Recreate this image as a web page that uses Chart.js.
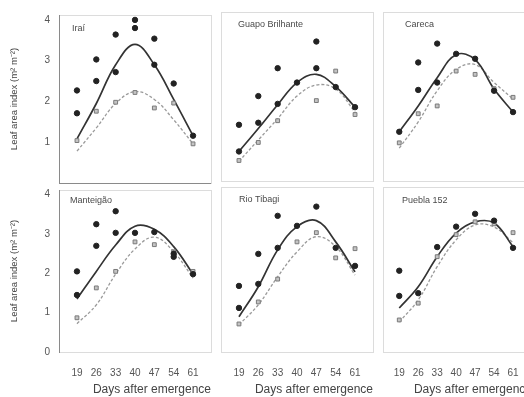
<!DOCTYPE html>
<html>
<head>
<meta charset="utf-8">
<script src="https://cdn.jsdelivr.net/npm/chart.js@4.4.1/dist/chart.umd.min.js"></script>
<style>
html, body { margin: 0; padding: 0; background: #fff; overflow: hidden; width: 524px; height: 397px; }
canvas { position: absolute; }
</style>
</head>
<body>
<canvas id="p1"></canvas>
<canvas id="p2"></canvas>
<canvas id="p3"></canvas>
<canvas id="p4"></canvas>
<canvas id="p5"></canvas>
<canvas id="p6"></canvas>
<script>
// days after emergence (x)
var days = [19, 26, 33, 40, 47, 54, 61];
var yTicksTop = [1, 2, 3, 4];
var yTicksBottom = [0, 1, 2, 3, 4];

var names = ["Iraí", "Guapo Brilhante", "Careca", "Manteigão", "Rio Tibagi", "Puebla 152"];

// black dots (two readings per day where visible)
var iraiDarkA = [2.27, 3.03, 3.64, 4.0, 3.54, 2.44, 1.16];
var iraiDarkB = [1.71, 2.5, 2.72, 3.8, 2.9, null, null];
var iraiGray = [1.04, 1.76, 1.98, 2.22, 1.84, 1.96, 0.96];
var iraiSolid = [1.08, 1.95, 2.9, 3.4, 2.9, 2.05, 1.16];
var iraiDashed = [0.78, 1.35, 1.95, 2.24, 2.05, 1.55, 0.96];

var guapoDarkA = [1.37, 2.07, 2.75, 2.4, 3.4, 2.29, 1.8];
var guapoDarkB = [0.72, 1.42, 1.88, null, 2.75, null, null];
var guapoGray = [0.5, 0.94, 1.47, 2.4, 1.96, 2.68, 1.62];
var guapoSolid = [0.72, 1.28, 1.86, 2.4, 2.6, 2.3, 1.8];
var guapoDashed = [0.48, 1.0, 1.52, 2.07, 2.34, 2.24, 1.68];

var carecaDarkA = [1.2, 2.89, 3.35, 3.1, 2.98, 2.2, 1.68];
var carecaDarkB = [null, 2.22, 2.4, null, null, null, null];
var carecaGray = [0.93, 1.64, 1.83, 2.68, 2.6, 2.25, 2.04];
var carecaSolid = [1.2, 1.83, 2.52, 3.08, 2.96, 2.24, 1.68];
var carecaDashed = [0.8, 1.44, 2.2, 2.72, 2.84, 2.4, 2.0];

var manteigaoDarkA = [2.05, 3.25, 3.58, 3.03, 3.05, 2.5, 1.98];
var manteigaoDarkB = [1.45, 2.7, 3.03, null, null, 2.42, null];
var manteigaoGray = [0.87, 1.63, 2.05, 2.8, 2.73, 2.55, 2.05];
var manteigaoSolid = [1.35, 2.05, 2.72, 3.2, 3.12, 2.68, 1.98];
var manteigaoDashed = [0.72, 1.2, 1.98, 2.62, 2.92, 2.55, 1.88];

var tibagiDarkA = [1.65, 2.45, 3.4, 3.15, 3.63, 2.6, 2.15];
var tibagiDarkB = [1.1, 1.7, 2.6, null, null, null, null];
var tibagiGray = [0.7, 1.25, 1.82, 2.75, 2.98, 2.35, 2.58];
var tibagiSolid = [0.88, 1.63, 2.55, 3.13, 3.28, 2.75, 2.0];
var tibagiDashed = [0.68, 1.18, 1.88, 2.5, 2.88, 2.63, 1.92];

var pueblaDarkA = [2.03, 1.47, 2.62, 3.13, 3.45, 3.28, 2.6];
var pueblaDarkB = [1.4, null, null, null, null, null, null];
var pueblaGray = [0.8, 1.22, 2.38, 2.93, 3.25, 3.2, 2.98];
var pueblaSolid = [1.1, 1.63, 2.38, 2.97, 3.25, 3.22, 2.63];
var pueblaDashed = [0.75, 1.3, 2.13, 2.8, 3.17, 3.12, 2.73];

var FONT = '"Liberation Sans", Arial, sans-serif';

function pts(xs, ys) {
    var out = [];
    for (var i = 0; i < xs.length; i++) {
        if (ys[i] !== null) out.push({x: xs[i], y: ys[i]});
    }
    return out;
}

// frame around each panel + panel name
var framePlugin = {
    id: 'frame',
    beforeDatasetsDraw: function(chart, args, o) {
        var a = chart.chartArea, c = chart.ctx;
        c.save();
        c.lineWidth = 1;
        c.strokeStyle = '#dcdcdc';
        c.strokeRect(Math.round(a.left) + 0.5, Math.round(a.top) + 0.5,
            Math.round(a.right - a.left), Math.round(a.bottom - a.top));
        c.strokeStyle = '#8a8a8a';
        c.beginPath();
        if (o.darkLeft) {
            c.moveTo(Math.round(a.left) + 0.5, a.top);
            c.lineTo(Math.round(a.left) + 0.5, a.bottom + 1);
        }
        if (o.darkBottom) {
            c.moveTo(a.left, Math.round(a.bottom) + 0.5);
            c.lineTo(a.right, Math.round(a.bottom) + 0.5);
        }
        c.stroke();
        c.fillStyle = '#4a4a4a';
        c.font = '9px ' + FONT;
        c.textBaseline = 'middle';
        c.fillText(o.name, a.left + o.dx, a.top + o.dy);
        c.restore();
    }
};

function makePanel(id, p) {
    var cv = document.getElementById(id);
    cv.width = p.w; cv.height = p.h;
    cv.style.left = p.left + 'px'; cv.style.top = p.top + 'px';
    cv.style.width = p.w + 'px'; cv.style.height = p.h + 'px';

    var dark = pts(days, p.darkA).concat(pts(days, p.darkB));

    new Chart(cv, {
        type: 'scatter',
        data: {
            datasets: [
                {data: dark, pointStyle: 'circle', pointRadius: 2.7,
                 backgroundColor: '#222', borderColor: '#222', borderWidth: 1, clip: false},
                {data: pts(days, p.gray), pointStyle: 'rect', pointRadius: 2.7,
                 backgroundColor: '#c4c4c4', borderColor: '#7a7a7a', borderWidth: 1, clip: false},
                {data: pts(days, p.solid), showLine: true, tension: 0.4, pointRadius: 0,
                 borderColor: '#333', borderWidth: 1.7, clip: false},
                {data: pts(days, p.dashed), showLine: true, tension: 0.4, pointRadius: 0,
                 borderColor: '#9a9a9a', borderWidth: 1.3, borderDash: [3, 2], clip: false}
            ]
        },
        options: {
            responsive: false,
            animation: false,
            layout: {padding: p.pad},
            plugins: {
                legend: {display: false},
                tooltip: {enabled: false},
                frame: {name: p.name, dx: p.dx, dy: p.dy, darkLeft: p.yAxis, darkBottom: p.darkBottom}
            },
            scales: {
                x: {
                    type: 'linear', min: p.xmin, max: p.xmax,
                    display: p.xAxis,
                    grid: {display: false, drawTicks: false},
                    border: {display: false},
                    afterBuildTicks: function(s) { s.ticks = days.map(function(d) { return {value: d}; }); },
                    afterFit: function(s) { s.height = p.xAxis ? 45 : 0; },
                    ticks: {color: '#555', padding: 15, maxRotation: 0, autoSkip: false,
                            font: {size: 10, family: FONT}},
                    title: {display: true, text: 'Days after emergence', color: '#444', align: 'end',
                            font: {size: 12, family: FONT}, padding: {top: 0, bottom: 0}}
                },
                y: {
                    min: 0, max: 4.12,
                    display: p.yAxis,
                    grid: {display: false, drawTicks: false},
                    border: {display: false},
                    afterBuildTicks: function(s) { s.ticks = p.yTicks.map(function(v) { return {value: v}; }); },
                    afterFit: function(s) { s.width = p.yAxis ? 59 : 0; },
                    ticks: {color: '#555', padding: 9, font: {size: 10, family: FONT}},
                    title: {display: true, text: 'Leaf area index (m² m⁻²)', color: '#444',
                            font: {size: 9.5, family: FONT}, padding: {top: 9, bottom: 0}}
                }
            }
        },
        plugins: [framePlugin]
    });
}

var XMIN = 12.5, XMAX = 67.5;

makePanel('p1', {name: names[0], darkA: iraiDarkA, darkB: iraiDarkB, gray: iraiGray, solid: iraiSolid, dashed: iraiDashed,
    left: 0, top: 0, w: 216, h: 198, pad: {top: 12, right: 3, bottom: 2, left: 0},
    xAxis: false, yAxis: true, darkBottom: true, yTicks: yTicksTop, xmin: XMIN, xmax: XMAX, dx: 13, dy: 14});
makePanel('p2', {name: names[1], darkA: guapoDarkA, darkB: guapoDarkB, gray: guapoGray, solid: guapoSolid, dashed: guapoDashed,
    left: 216, top: 0, w: 162, h: 186, pad: {top: 12, right: 5, bottom: 2, left: 4},
    xAxis: false, yAxis: false, darkBottom: false, yTicks: yTicksTop, xmin: XMIN, xmax: XMAX, dx: 17, dy: 13});
makePanel('p3', {name: names[2], darkA: carecaDarkA, darkB: carecaDarkB, gray: carecaGray, solid: carecaSolid, dashed: carecaDashed,
    left: 378, top: 0, w: 160, h: 186, pad: {top: 12, right: 6, bottom: 2, left: 4},
    xAxis: false, yAxis: false, darkBottom: false, yTicks: yTicksTop, xmin: 13, xmax: 68, dx: 22, dy: 13});
makePanel('p4', {name: names[3], darkA: manteigaoDarkA, darkB: manteigaoDarkB, gray: manteigaoGray, solid: manteigaoSolid, dashed: manteigaoDashed,
    left: 0, top: 175, w: 216, h: 222, pad: {top: 12, right: 3, bottom: 0, left: 0},
    xAxis: true, yAxis: true, darkBottom: false, yTicks: yTicksBottom, xmin: XMIN, xmax: XMAX, dx: 11, dy: 11});
makePanel('p5', {name: names[4], darkA: tibagiDarkA, darkB: tibagiDarkB, gray: tibagiGray, solid: tibagiSolid, dashed: tibagiDashed,
    left: 216, top: 175, w: 162, h: 222, pad: {top: 12, right: 5, bottom: 0, left: 4},
    xAxis: true, yAxis: false, darkBottom: false, yTicks: yTicksBottom, xmin: XMIN, xmax: XMAX, dx: 18, dy: 13});
makePanel('p6', {name: names[5], darkA: pueblaDarkA, darkB: pueblaDarkB, gray: pueblaGray, solid: pueblaSolid, dashed: pueblaDashed,
    left: 378, top: 175, w: 160, h: 222, pad: {top: 12, right: 6, bottom: 0, left: 4},
    xAxis: true, yAxis: false, darkBottom: false, yTicks: yTicksBottom, xmin: 13, xmax: 68, dx: 19, dy: 14});
</script>
</body>
</html>
